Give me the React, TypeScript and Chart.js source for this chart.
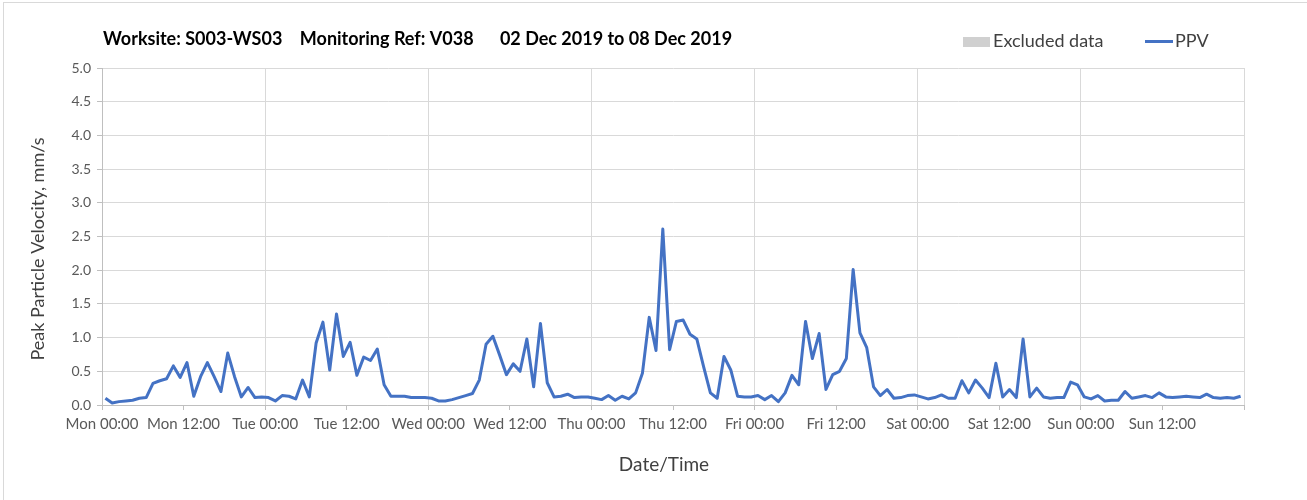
import React, { useEffect, useRef } from "react";
import { Chart, registerables } from "chart.js";

Chart.register(...registerables);

// ---------- data ----------
const CHART_TITLE = "Worksite: S003-WS03    Monitoring Ref: V038      02 Dec 2019 to 08 Dec 2019";
const Y_AXIS_TITLE = "Peak Particle Velocity, mm/s";
const X_AXIS_TITLE = "Date/Time";
const SERIES_NAMES = ["Excluded data", "PPV"];

// tick labels every 12 hours starting Mon 00:00
const X_TICK_LABELS = [
  "Mon 00:00", "Mon 12:00", "Tue 00:00", "Tue 12:00", "Wed 00:00", "Wed 12:00",
  "Thu 00:00", "Thu 12:00", "Fri 00:00", "Fri 12:00", "Sat 00:00", "Sat 12:00",
  "Sun 00:00", "Sun 12:00",
];
const X_TICK_STEP_H = 12;
const X_GRID_STEP_H = 24;
const X_RANGE_H = [0, 168];
const Y_RANGE = [0, 5];
const Y_STEP = 0.5;

// hourly PPV readings (mm/s), each logged at half past the hour, Mon 00:30 .. Sun 23:30
const SAMPLE_OFFSET_H = 0.5;
const PPV_VALUES = [
  // Mon
  0.10, 0.03, 0.05, 0.06, 0.07, 0.10, 0.11, 0.32, 0.36, 0.39, 0.58, 0.41,
  0.63, 0.13, 0.42, 0.63, 0.42, 0.20, 0.77, 0.42, 0.12, 0.26, 0.11, 0.12,
  // Tue
  0.11, 0.06, 0.14, 0.13, 0.09, 0.37, 0.12, 0.92, 1.23, 0.52, 1.35, 0.72,
  0.93, 0.44, 0.71, 0.66, 0.83, 0.30, 0.13, 0.13, 0.13, 0.11, 0.11, 0.11,
  // Wed
  0.10, 0.06, 0.06, 0.08, 0.11, 0.14, 0.17, 0.37, 0.90, 1.02, 0.74, 0.45,
  0.61, 0.50, 0.98, 0.27, 1.21, 0.33, 0.12, 0.13, 0.16, 0.11, 0.12, 0.12,
  // Thu
  0.10, 0.08, 0.14, 0.07, 0.13, 0.09, 0.18, 0.47, 1.30, 0.81, 2.61, 0.82,
  1.24, 1.26, 1.05, 0.98, 0.57, 0.18, 0.10, 0.72, 0.52, 0.13, 0.12, 0.12,
  // Fri
  0.14, 0.08, 0.14, 0.05, 0.18, 0.44, 0.30, 1.24, 0.69, 1.06, 0.23, 0.45,
  0.50, 0.69, 2.01, 1.07, 0.85, 0.27, 0.14, 0.23, 0.10, 0.11, 0.14, 0.15,
  // Sat
  0.12, 0.09, 0.11, 0.15, 0.10, 0.10, 0.36, 0.18, 0.37, 0.25, 0.11, 0.62,
  0.12, 0.23, 0.11, 0.98, 0.12, 0.25, 0.12, 0.10, 0.11, 0.11, 0.34, 0.30,
  // Sun
  0.12, 0.09, 0.14, 0.06, 0.07, 0.07, 0.20, 0.10, 0.12, 0.14, 0.11, 0.18,
  0.12, 0.11, 0.12, 0.13, 0.12, 0.11, 0.16, 0.11, 0.10, 0.11, 0.10, 0.13,
];
const EXCLUDED_VALUES: number[] = [];

// ---------- styles ----------
const FONT = "Lato, 'Open Sans', sans-serif";
const PPV_COLOR = "#4472C4";
const EXCLUDED_COLOR = "#d0d0d0";
const GRID_COLOR = "#d9d9d9";
const AXIS_COLOR = "#bfbfbf";
const TICK_TEXT = "#595959";
const LABEL_TEXT = "#404040";

const decorations = {
  id: "decorations",
  afterDraw(chart: any) {
    const { ctx, chartArea } = chart;
    ctx.save();
    // chart title
    ctx.fillStyle = "#000000";
    ctx.font = `bold 18px ${FONT}`;
    ctx.textAlign = "left";
    ctx.textBaseline = "middle";
    ctx.fillText(CHART_TITLE, chartArea.left + 1, 39);

    // legend
    const ds = chart.data.datasets;
    ctx.font = `18px ${FONT}`;
    ctx.fillStyle = ds[0].backgroundColor;
    ctx.fillRect(963, 37, 27, 10);
    ctx.fillStyle = LABEL_TEXT;
    ctx.fillText(ds[0].label, 993, 41);
    ctx.strokeStyle = ds[1].borderColor;
    ctx.lineWidth = 3;
    ctx.beginPath();
    ctx.moveTo(1145, 41.5);
    ctx.lineTo(1173, 41.5);
    ctx.stroke();
    ctx.fillStyle = LABEL_TEXT;
    ctx.fillText(ds[1].label, 1175, 41);

    // axis titles
    ctx.font = `18px ${FONT}`;
    ctx.textAlign = "center";
    ctx.fillStyle = LABEL_TEXT;
    ctx.save();
    ctx.translate(38, 249);
    ctx.rotate(-Math.PI / 2);
    ctx.fillText(Y_AXIS_TITLE, 0, 0);
    ctx.restore();
    ctx.font = `19px ${FONT}`;
    ctx.fillText(X_AXIS_TITLE, 664, 465);
    ctx.restore();
  },
};

export default function App() {
  const canvasRef = useRef<HTMLCanvasElement | null>(null);

  useEffect(() => {
    if (!canvasRef.current) return;
    const chart = new Chart(canvasRef.current, {
      type: "line",
      data: {
        datasets: [
          {
            type: "bar",
            label: SERIES_NAMES[0],
            data: EXCLUDED_VALUES,
            backgroundColor: EXCLUDED_COLOR,
          } as any,
          {
            label: SERIES_NAMES[1],
            data: PPV_VALUES.map((v, i) => ({ x: i + SAMPLE_OFFSET_H, y: v })),
            borderColor: PPV_COLOR,
            backgroundColor: PPV_COLOR,
            borderWidth: 3,
            pointRadius: 0,
            tension: 0,
            fill: false,
            borderJoinStyle: "round",
          },
        ],
      },
      options: {
        animation: false,
        responsive: false,
        maintainAspectRatio: false,
        layout: { padding: { left: 0, top: 68, right: 63, bottom: 0 } },
        plugins: {
          legend: { display: false },
          title: { display: false },
          tooltip: { enabled: false },
        },
        scales: {
          x: {
            type: "linear",
            min: X_RANGE_H[0],
            max: X_RANGE_H[1],
            offset: false,
            afterFit: (s: any) => {
              s.height = 95;
            },
            afterBuildTicks: (s: any) => {
              const t = [];
              for (let v = X_RANGE_H[0]; v <= X_RANGE_H[1]; v += X_TICK_STEP_H) t.push({ value: v });
              s.ticks = t;
            },
            ticks: {
              autoSkip: false,
              maxRotation: 0,
              padding: 5,
              color: TICK_TEXT,
              font: { family: FONT, size: 15 },
              callback: (v: any) => X_TICK_LABELS[Math.round(Number(v) / X_TICK_STEP_H)] ?? "",
            },
            grid: {
              offset: false,
              color: (c: any) =>
                c.tick && c.tick.value % X_GRID_STEP_H === 0 ? GRID_COLOR : "rgba(0,0,0,0)",
              tickColor: AXIS_COLOR,
              tickLength: 5,
              lineWidth: 1,
            },
            border: { color: AXIS_COLOR, width: 1 },
          },
          y: {
            min: Y_RANGE[0],
            max: Y_RANGE[1],
            afterFit: (s: any) => {
              s.width = 102;
            },
            ticks: {
              stepSize: Y_STEP,
              padding: 6,
              color: TICK_TEXT,
              font: { family: FONT, size: 14 },
              callback: (v: any) => Number(v).toFixed(1),
            },
            grid: {
              color: GRID_COLOR,
              tickColor: AXIS_COLOR,
              tickLength: 5,
              lineWidth: 1,
            },
            border: { color: AXIS_COLOR, width: 1 },
          },
        },
      },
      plugins: [decorations],
    });
    return () => chart.destroy();
  }, []);

  return (
    <div
      style={{
        position: "fixed",
        left: 0,
        top: 0,
        width: 1307,
        height: 500,
        background: "#ffffff",
      }}
    >
      <div
        style={{
          position: "absolute",
          left: 3,
          top: 2,
          width: 1310,
          height: 510,
          borderLeft: "1px solid #d9d9d9",
          borderTop: "1px solid #d9d9d9",
        }}
      />
      <canvas
        ref={canvasRef}
        width={1307}
        height={500}
        style={{ position: "absolute", left: 0, top: 0, width: 1307, height: 500 }}
      />
    </div>
  );
}
